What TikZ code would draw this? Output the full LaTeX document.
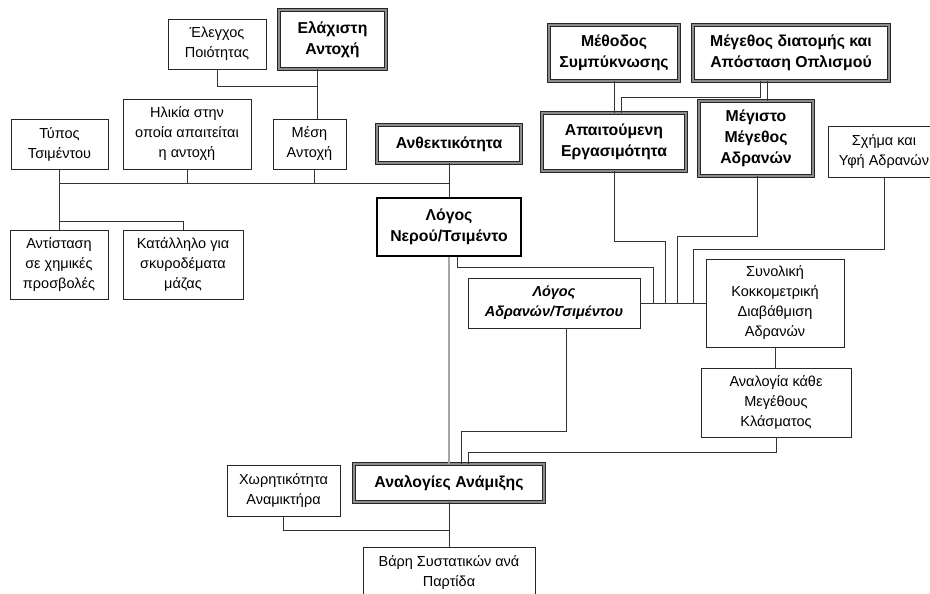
\documentclass[tikz,border=0pt]{standalone}
\usepackage{fontspec}
\setmainfont{Liberation Sans}
\usepackage{tikz}
\usetikzlibrary{calc}
\usetikzlibrary{positioning}
\tikzstyle{basebox} = [align=center, inner sep=1pt, font=\fontsize{14.5}{20}\selectfont]
\tikzstyle{thinbox} = [basebox, draw=black!85, line width=0.9pt]
\tikzstyle{dblbox} = [basebox, draw=black!85, line width=0.9pt, double=black!45, double distance=1.4pt, font=\fontsize{15.8}{21}\selectfont\bfseries]
\tikzstyle{thickbox} = [basebox, draw=black, line width=2.8pt, font=\fontsize{15.8}{21}\selectfont\bfseries]
\tikzstyle{link} = [draw=black!80, line width=0.9pt]
\tikzstyle{greylink} = [draw=black!35, line width=1.1pt]

\begin{document}
\begin{tikzpicture}[x=1pt, y=-1pt]
    \useasboundingbox (0,0) rectangle (930,594);

    % left half
    \node[thinbox, minimum width=98, minimum height=50] (elegxos) at (217,44) {Έλεγχος\\Ποιότητας};
    \node[dblbox, minimum width=107, minimum height=59] (elaxisti) at (332.5,39.5) {Ελάχιστη\\Αντοχή};
    \node[thinbox, minimum width=128, minimum height=70] (ilikia) at (187,134) {Ηλικία στην\\οποία απαιτείται\\η αντοχή};
    \node[thinbox, minimum width=97, minimum height=50] (typos) at (59.5,144) {Τύπος\\Τσιμέντου};
    \node[thinbox, minimum width=73, minimum height=50] (mesi) at (309.5,144) {Μέση\\Αντοχή};
    \node[dblbox, minimum width=144, minimum height=38] (anthek) at (449,144) {Ανθεκτικότητα};
    \node[thickbox, minimum width=144, minimum height=58] (logosNT) at (449,227) {Λόγος\\Νερού/Τσιμέντο};
    \node[thinbox, minimum width=98, minimum height=69] (antistasi) at (59,264.5) {Αντίσταση\\σε χημικές\\προσβολές};
    \node[thinbox, minimum width=120, minimum height=69] (katallilo) at (183,264.5) {Κατάλληλο για\\σκυροδέματα\\μάζας};

    % right half
    \node[dblbox, minimum width=130, minimum height=56] (methodos) at (614,53) {Μέθοδος\\Συμπύκνωσης};
    \node[dblbox, minimum width=196, minimum height=56] (diatomi) at (791,53) {Μέγεθος διατομής και\\Απόσταση Οπλισμού};
    \node[dblbox, minimum width=144, minimum height=58] (ergasim) at (614,142) {Απαιτούμενη\\Εργασιμότητα};
    \node[dblbox, minimum width=114, minimum height=75] (megisto) at (756,138.5) {Μέγιστο\\Μέγεθος\\Αδρανών};
    \node[thinbox, minimum width=112, minimum height=51] (sxima) at (884,151.5) {Σχήμα και\\Υφή Αδρανών};
    \node[thinbox, minimum width=172, minimum height=50, font=\fontsize{14.5}{20}\selectfont\bfseries\itshape] (logosAT) at (554,303) {Λόγος\\Αδρανών/Τσιμέντου};
    \node[thinbox, minimum width=138, minimum height=88] (synoliki) at (775,303) {Συνολική\\Κοκκομετρική\\Διαβάθμιση\\Αδρανών};
    \node[thinbox, minimum width=150, minimum height=69] (klasma) at (776,402.5) {Αναλογία κάθε\\Μεγέθους\\Κλάσματος};

    % bottom
    \node[dblbox, minimum width=190, minimum height=38] (anamixi) at (449,483) {Αναλογίες Ανάμιξης};
    \node[thinbox, minimum width=113, minimum height=51] (xoritik) at (283.5,490.5) {Χωρητικότητα\\Αναμικτήρα};
    \node[thinbox, minimum width=172, minimum height=52] (vari) at (449,573) {Βάρη Συστατικών ανά\\Παρτίδα};

    % junctions
    \coordinate (busL) at (0,183);
    \coordinate (j653) at (653,303);
    \coordinate (j665) at (665,303);
    \coordinate (j677) at (677,303);
    \coordinate (j693) at (693,303);

    % connectors, left
    \draw[link] ([xshift=-15.5pt]elaxisti.south) -- ([xshift=-15.5pt]elaxisti.south |- mesi.north);
    \draw[link] (elegxos.south) -- ++(0,17) -| ([xshift=-15.5pt]elaxisti.south);
    \draw[link] (typos.south) -- (typos.south |- antistasi.north);
    \draw[link] (typos.south |- 0,221) -| (katallilo.north);
    \draw[link] (typos.south |- busL) -- (anthek.south |- busL);
    \draw[link] (ilikia.south) -- (ilikia.south |- busL);
    \draw[link] ([xshift=4.5pt]mesi.south) -- ([xshift=4.5pt]mesi.south |- busL);
    \draw[link] (anthek.south) -- (logosNT.north);
    \draw[greylink] (logosNT.south) -- (anamixi.north);

    % connectors, right
    \draw[link] (methodos.south) -- (ergasim.north);
    \draw[link] ([xshift=-31pt]diatomi.south) -- ++(0,16) -| ([xshift=7pt]ergasim.north);
    \draw[link] ([xshift=-24pt]diatomi.south) -- ([xshift=-24pt]diatomi.south |- megisto.north);
    \draw[link] (logosAT.east) -- (synoliki.west);
    \draw[link] ([xshift=8pt]logosNT.south) -- ++(0,10) -| (j653);
    \draw[link] (ergasim.south) -- ++(0,70) -| (j665);
    \draw[link] ([xshift=1pt]megisto.south) -- ++(0,60) -| (j677);
    \draw[link] (sxima.south) -- ++(0,72) -| (j693);
    \draw[link] (synoliki.south) -- (synoliki.south |- klasma.north);

    % connectors, bottom
    \draw[link] (klasma.south) -- ++(0,15) -| ([xshift=19pt]anamixi.north);
    \draw[link] ([xshift=12pt]logosAT.south) -- ++(0,103) -| ([xshift=12pt]anamixi.north);
    \draw[link] (anamixi.south) -- (vari.north);
    \draw[link] (xoritik.south) -- ++(0,14) -| (vari.north);
\end{tikzpicture}
\end{document}
